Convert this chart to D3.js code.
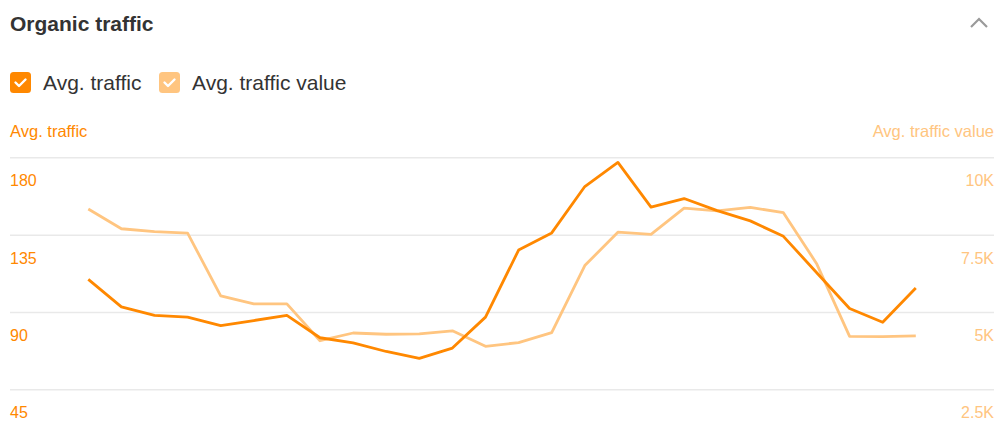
<!DOCTYPE html>
<html>
<head>
<meta charset="utf-8">
<script src="https://cdn.jsdelivr.net/npm/d3@7"></script>
<style>
  body { margin: 0; background: #fff; font-family: "Liberation Sans", Arial, sans-serif; }
  svg { display: block; }
</style>
</head>
<body>
<svg id="chart" width="1004" height="439"></svg>
<script>
// monthly points, left to right
var traffic = [109, 93, 88, 87, 82, 85, 88, 75, 72, 67, 63, 69, 87, 126, 136, 163, 177, 151, 156, 149, 143, 134, 113, 92, 84, 104];
var trafficValue = [8330, 7690, 7600, 7550, 5520, 5260, 5260, 4070, 4320, 4280, 4290, 4390, 3890, 4010, 4330, 6500, 7580, 7510, 8360, 8270, 8380, 8210, 6570, 4210, 4200, 4230];
var leftTicks = [45, 90, 135, 180];
var rightTicks = [2500, 5000, 7500, 10000];
var rightLabels = ["2.5K", "5K", "7.5K", "10K"];

var dark = "#ff8800", light = "#ffc580";

var svg = d3.select("#chart");

// header
svg.append("text").attr("x", 10).attr("y", 30.5)
  .attr("font-size", 21).attr("font-weight", "bold").attr("fill", "#333")
  .text("Organic traffic");
svg.append("path").attr("d", "M971,27 L979,19 L987,27")
  .attr("fill", "none").attr("stroke", "#9a9a9a").attr("stroke-width", 2.2);

// legend
var legend = [{label: "Avg. traffic", color: dark, x: 10}, {label: "Avg. traffic value", color: light, x: 159}];
var lg = svg.selectAll(".lg").data(legend).enter().append("g")
  .attr("transform", d => "translate(" + d.x + ",72)");
lg.append("rect").attr("width", 21).attr("height", 21).attr("rx", 3.5).attr("fill", d => d.color);
lg.append("path").attr("d", "M5.5,10.5 L9,14 L15.5,7.5")
  .attr("fill", "none").attr("stroke", "#fff").attr("stroke-width", 2.4)
  .attr("stroke-linecap", "round").attr("stroke-linejoin", "round");
lg.append("text").attr("x", 33).attr("y", 18).attr("font-size", 21).attr("fill", "#333")
  .text(d => d.label);

// axis titles
svg.append("text").attr("x", 10).attr("y", 137).attr("font-size", 16.5).attr("fill", dark).text("Avg. traffic");
svg.append("text").attr("x", 994).attr("y", 137).attr("font-size", 16.5).attr("fill", light)
  .attr("text-anchor", "end").text("Avg. traffic value");

var x = d3.scalePoint().domain(d3.range(traffic.length)).range([88.3, 915.8]);
var yL = d3.scaleLinear().domain([45, 180]).range([389.3, 157.3]);
var yR = d3.scaleLinear().domain([2500, 10000]).range([389.3, 157.3]);

// gridlines
svg.append("g").attr("transform", "translate(10,0)")
  .call(d3.axisRight(yL).tickValues(leftTicks).tickSize(984).tickFormat(""))
  .call(g => g.select(".domain").remove())
  .call(g => g.selectAll("line").attr("stroke", "#e9e9e9").attr("stroke-width", 1.5));

svg.selectAll(".lt").data(leftTicks).enter().append("text")
  .attr("x", 10).attr("y", d => yL(d) + 29).attr("font-size", 16).attr("fill", dark)
  .text(d => d);
svg.selectAll(".rt").data(rightTicks).enter().append("text")
  .attr("x", 994).attr("y", d => yR(d) + 29).attr("font-size", 16).attr("fill", light)
  .attr("text-anchor", "end")
  .text((d, i) => rightLabels[i]);

// lines
var lineR = d3.line().x((d, i) => x(i)).y(d => yR(d));
var lineL = d3.line().x((d, i) => x(i)).y(d => yL(d));
svg.append("path").datum(trafficValue).attr("d", lineR)
  .attr("fill", "none").attr("stroke", light).attr("stroke-width", 2.8).attr("stroke-linejoin", "round");
svg.append("path").datum(traffic).attr("d", lineL)
  .attr("fill", "none").attr("stroke", dark).attr("stroke-width", 2.8).attr("stroke-linejoin", "round");
</script>
</body>
</html>
